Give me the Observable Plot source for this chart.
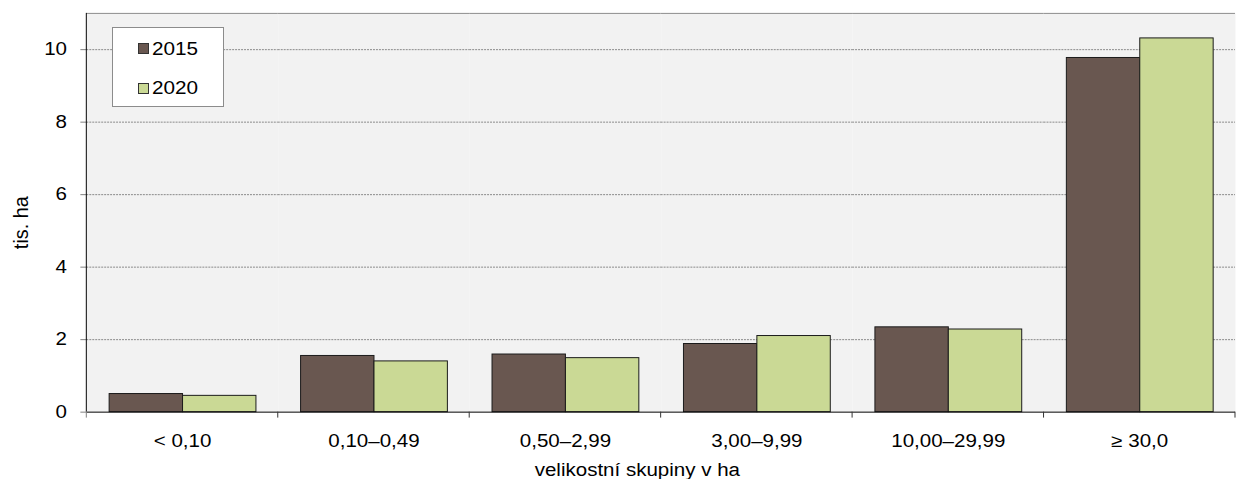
<!DOCTYPE html>
<html>
<head>
<meta charset="utf-8">
<script src="https://cdn.jsdelivr.net/npm/d3@7"></script>
<script src="https://cdn.jsdelivr.net/npm/@observablehq/plot@0.6"></script>
<style>
html, body { margin: 0; padding: 0; background: #fff; overflow: hidden; }
#wrap { position: relative; width: 1236px; height: 483px; overflow: hidden; }
#legend { position: absolute; left: 112px; top: 27px; width: 112px; height: 80px; background: #fff;
  border: 1px solid #8c8c8c; box-sizing: border-box; font-family: "Liberation Sans", Arial, sans-serif;
  font-size: 18px; line-height: 18px; color: #000; }
#legend .sw { position: absolute; width: 11px; height: 11px; border: 1px solid #333; box-sizing: border-box; }
#legend .tx { position: absolute; display: inline-block; transform: scaleX(1.15); transform-origin: left center; white-space: nowrap; }
</style>
</head>
<body>
<div id="wrap">
  <div id="chart"></div>
  <div id="legend"></div>
</div>
<script>
// ---- data ----
const categories = ["< 0,10", "0,10–0,49", "0,50–2,99", "3,00–9,99", "10,00–29,99", "≥ 30,0"];
const years = ["2015", "2020"];
const v2015 = [0.50, 1.55, 1.59, 1.88, 2.34, 9.77];
const v2020 = [0.45, 1.40, 1.49, 2.10, 2.28, 10.31];
const yTicks = [0, 2, 4, 6, 8, 10];
const colors = ["#695750", "#cad995"];
const yLabel = "tis. ha";
const xLabel = "velikostní skupiny v ha";

const series = { "2015": v2015, "2020": v2020 };
const data = categories.flatMap((c, i) => years.map(yr => ({ cat: c, year: yr, value: series[yr][i] })));

const plot = Plot.plot({
  width: 1246,
  height: 483,
  marginLeft: 86,
  marginRight: 0,
  marginTop: 13,
  marginBottom: 68,
  style: { fontFamily: '"Liberation Sans", Arial, sans-serif', fontSize: "18px", color: "#000", background: "transparent" },
  fx: { domain: categories, padding: 0, label: null, axis: null },
  x: { domain: years, paddingInner: 0, paddingOuter: 0.29, axis: null },
  y: { domain: [0, 11], axis: null },
  color: { domain: years, range: colors },
  marks: [
    Plot.frame({ fill: "#f2f2f2", stroke: null }),
    Plot.gridY(yTicks.filter(d => d > 0), { stroke: "#8a8a8a", strokeOpacity: 1, strokeDasharray: "2,1" }),
    Plot.barY(data, { fx: "cat", x: "year", y: "value", fill: "year", stroke: "#1a1a1a", strokeWidth: 1 }),
    Plot.ruleY([0], { stroke: "#000" }),
    Plot.ruleY([11], { stroke: "#8c8c8c" }),
    Plot.axisY(yTicks, { tickSize: 6, tickPadding: 14, stroke: "#808080", label: yLabel, labelArrow: "none", labelAnchor: "center", labelOffset: 74 }),
    Plot.axisFx({ anchor: "bottom", tickSize: 0, tickPadding: 22, label: xLabel, labelArrow: "none", labelAnchor: "center", labelOffset: 64 })
  ]
});

document.getElementById("chart").appendChild(plot);

// frame lines and category boundary ticks from Plot's scales
const fx = plot.scale("fx");
const ys = plot.scale("y");
const svg = d3.select(plot);
const g = svg.append("g");
const x0 = fx.apply(categories[0]);
g.append("line").attr("x1", x0).attr("x2", x0).attr("y1", ys.apply(11)).attr("y2", ys.apply(0)).attr("stroke", "#000");
const bw = fx.bandwidth !== undefined ? fx.bandwidth : (fx.step || 0);
const bounds = categories.map(c => fx.apply(c)).concat([fx.apply(categories[categories.length - 1]) + bw]);
bounds.forEach((bx, i) => {
  g.append("line").attr("x1", bx).attr("x2", bx).attr("y1", ys.apply(0)).attr("y2", ys.apply(0) + 6)
    .attr("stroke", i === 0 ? "#808080" : "#333");
});

// texts: remove any label arrow, stretch horizontally, nudge axis titles
svg.selectAll("text").each(function () {
  const txt = this.textContent;
  const t = this.getAttribute("transform") || "";
  if (txt.includes("tis. ha")) {
    this.textContent = yLabel;
    this.setAttribute("font-size", "20");
    this.setAttribute("dx", t.includes("rotate") ? -10 : 0);
    return;
  }
  if (txt.includes("velikostní")) {
    this.textContent = xLabel;
    this.setAttribute("dx", -24);
  }
  const len = this.getComputedTextLength();
  this.setAttribute("textLength", len * 1.15);
  this.setAttribute("lengthAdjust", "spacingAndGlyphs");
});

// legend
const legend = document.getElementById("legend");
years.forEach((yr, i) => {
  const sw = document.createElement("div");
  sw.className = "sw";
  sw.style.left = "25px";
  sw.style.top = (15 + i * 39.5) + "px";
  sw.style.background = colors[i];
  legend.appendChild(sw);
  const tx = document.createElement("span");
  tx.className = "tx";
  tx.style.left = "39px";
  tx.style.top = (12 + i * 39) + "px";
  tx.textContent = yr;
  legend.appendChild(tx);
});
</script>
</body>
</html>
